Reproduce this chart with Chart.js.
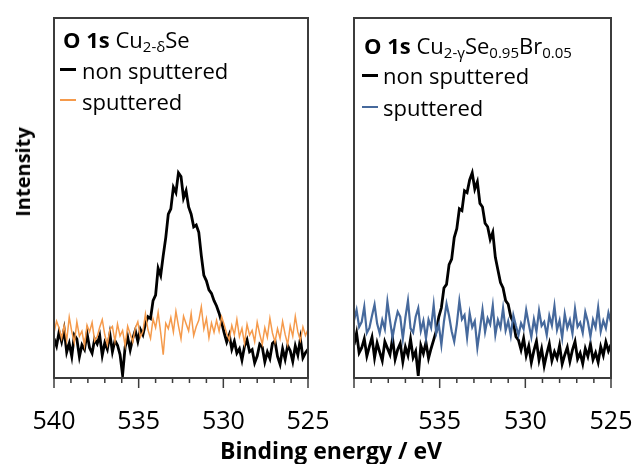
<!DOCTYPE html>
<html>
<head>
<meta charset="utf-8">
<script src="https://cdn.jsdelivr.net/npm/chart.js@4.4.0/dist/chart.umd.min.js"></script>
<style>
  body { margin: 0; background: #fff; overflow: hidden; }
  #wrap { position: relative; width: 635px; height: 464px; font-family: "Open Sans", sans-serif; color: #000; }
  canvas { position: absolute; top: 0; }
  .t { position: absolute; white-space: nowrap; font-size: 22px; line-height: 22px; }
  .t sub { font-size: 15px; vertical-align: -4px; line-height: 0; }
  .sw { position: absolute; width: 16px; }
</style>
</head>
<body>
<div id="wrap">
  <canvas id="chart" width="332" height="464" style="left:0"></canvas>
  <canvas id="chart2" width="305" height="464" style="left:330px"></canvas>

  <!-- legend left -->
  <div class="t" style="left:63px; top:28px"><b>O 1s</b> Cu<sub>2-δ</sub>Se</div>
  <div class="sw" style="left:60px; top:68px; height:3px; background:#000"></div>
  <div class="t" style="left:82px; top:59px">non sputtered</div>
  <div class="sw" style="left:60px; top:99px; height:2px; background:#f59a4b"></div>
  <div class="t" style="left:82px; top:90px">sputtered</div>

  <!-- legend right -->
  <div class="t" style="left:364px; top:34px"><b>O 1s</b> Cu<sub>2-γ</sub>Se<sub>0.95</sub>Br<sub>0.05</sub></div>
  <div class="sw" style="left:362px; top:74px; height:3px; background:#000"></div>
  <div class="t" style="left:383px; top:64px">non sputtered</div>
  <div class="sw" style="left:362px; top:106px; height:2px; background:#46699c"></div>
  <div class="t" style="left:383px; top:96px">sputtered</div>

  <!-- axis titles -->
  <div class="t" style="left:23px; top:172px; font-size:20px; font-weight:bold; transform: translate(-50%,-50%) rotate(-90deg)">Intensity</div>
  <div class="t" style="left:331px; top:439px; font-size:23px; font-weight:bold; transform: translateX(-50%)">Binding energy / eV</div>
</div>

<script>
// binding energy (eV), 0.15 eV steps
const energy = [540.00, 539.85, 539.70, 539.55, 539.40, 539.25, 539.10, 538.95, 538.80, 538.65,
  538.50, 538.35, 538.20, 538.05, 537.90, 537.75, 537.60, 537.45, 537.30, 537.15,
  537.00, 536.85, 536.70, 536.55, 536.40, 536.25, 536.10, 535.95, 535.80, 535.65,
  535.50, 535.35, 535.20, 535.05, 534.90, 534.75, 534.60, 534.45, 534.30, 534.15,
  534.00, 533.85, 533.70, 533.55, 533.40, 533.25, 533.10, 532.95, 532.80, 532.65,
  532.50, 532.35, 532.20, 532.05, 531.90, 531.75, 531.60, 531.45, 531.30, 531.15,
  531.00, 530.85, 530.70, 530.55, 530.40, 530.25, 530.10, 529.95, 529.80, 529.65,
  529.50, 529.35, 529.20, 529.05, 528.90, 528.75, 528.60, 528.45, 528.30, 528.15,
  528.00, 527.85, 527.70, 527.55, 527.40, 527.25, 527.10, 526.95, 526.80, 526.65,
  526.50, 526.35, 526.20, 526.05, 525.90, 525.75, 525.60, 525.45, 525.30, 525.15, 525.00];

// Cu2-dSe
const cuSeNon = [11.0, 8.9, 12.8, 10.1, 13.5, 7.2, 9.6, 6.0, 11.9, 10.8,
  5.9, 9.2, 7.9, 12.4, 8.4, 6.9, 10.8, 9.5, 11.8, 6.3,
  9.8, 8.0, 12.2, 7.3, 10.4, 9.1, 6.5, 0.8, 8.6, 11.4,
  7.8, 11.0, 13.2, 10.2, 13.5, 12.0, 15.0, 17.0, 16.5, 21.5,
  23.0, 30.5, 28.5, 34.0, 39.0, 45.5, 47.0, 53.0, 51.5, 57.0,
  56.0, 50.0, 52.0, 47.5, 45.5, 42.0, 42.5, 40.5, 34.0, 28.5,
  27.0, 24.5, 23.5, 21.5, 20.0, 18.0, 15.5, 12.5, 10.0, 12.0,
  8.0, 10.2, 6.9, 8.1, 5.0, 8.8, 10.6, 7.3, 7.9, 4.2,
  6.1, 9.4, 8.6, 4.5, 7.2, 5.4, 9.6, 10.3, 6.0, 3.8,
  8.1, 5.2, 9.0, 7.6, 4.6, 8.9, 6.4, 10.9, 5.6, 7.0, 8.0];
const cuSeSput = [12.5, 15.8, 13.9, 11.0, 14.6, 10.4, 16.9, 12.9, 9.8, 15.6,
  11.6, 13.0, 8.9, 14.7, 12.8, 15.4, 10.3, 11.5, 14.1, 16.2,
  12.0, 9.2, 13.5, 14.3, 10.2, 15.0, 11.7, 13.2, 9.0, 14.4,
  12.2, 10.0, 13.8, 15.6, 11.4, 12.9, 17.8, 13.4, 11.0, 16.4,
  14.0, 18.2, 12.6, 6.5, 15.2, 13.7, 16.8, 12.8, 18.5, 14.5,
  10.9, 17.2, 15.1, 13.1, 17.9, 11.8, 14.3, 16.0, 19.8, 13.6,
  16.5, 11.2, 15.3, 12.7, 16.0, 13.0, 17.0, 14.8, 12.3, 10.6,
  14.6, 12.0, 16.3, 11.5, 13.8, 9.6, 14.9, 11.9, 13.2, 10.1,
  15.5, 12.2, 9.4, 14.0, 11.3, 16.6, 12.5, 10.0, 13.7, 11.0,
  15.7, 12.1, 9.3, 14.5, 11.6, 17.1, 12.8, 10.4, 14.2, 11.8, 13.5];

// Cu2-ySe0.95Br0.05
const cuSeBrNon = [9.2, 12.5, 7.0, 8.4, 10.9, 6.1, 8.8, 11.3, 5.6, 9.7,
  7.2, 4.8, 10.1, 8.3, 6.5, 11.0, 5.2, 7.9, 9.6, 4.5,
  8.6, 6.3, 10.8, 5.7, 7.4, 0.6, 9.0, 6.8, 9.9, 5.5,
  8.2, 10.6, 13.0, 17.0, 19.5, 25.0, 26.0, 31.5, 33.0, 39.0,
  41.5, 47.0, 46.5, 52.0, 51.5, 55.0, 57.0, 52.5, 54.5, 48.5,
  47.5, 43.0, 42.0, 38.5, 40.5, 33.5, 30.0, 26.5, 25.0, 21.5,
  20.5, 17.0, 15.5, 11.5, 10.5, 7.8, 11.0, 6.2, 8.9, 4.3,
  7.6, 10.2, 5.0, 8.1, 3.4, 6.7, 9.5, 4.8, 7.3, 5.5,
  9.0, 3.9, 6.4, 8.5, 4.6, 7.8, 10.1, 5.3, 6.9, 4.0,
  8.2, 6.0, 9.4, 5.1, 7.0, 4.4, 8.7, 6.3, 10.0, 7.5, 9.3];
const cuSeBrSput = [16.0, 18.9, 14.2, 15.6, 19.8, 12.5, 13.9, 17.3, 20.4, 15.1,
  12.4, 16.1, 13.6, 21.2, 16.0, 11.2, 15.3, 18.4, 17.0, 10.9,
  16.8, 21.5, 13.8, 12.6, 17.0, 19.4, 13.1, 15.9, 11.0, 16.2,
  14.0, 20.3, 12.4, 14.8, 9.2, 15.7, 20.6, 17.2, 13.0, 10.1,
  14.9, 21.4, 16.3, 17.5, 11.2, 18.0, 14.1, 15.8, 8.4, 13.6,
  19.0, 12.8, 16.6, 14.9, 20.1, 12.0, 16.1, 14.0, 19.4, 13.2,
  15.8, 11.8, 17.4, 14.5, 11.9, 15.2, 13.6, 18.9, 15.0, 11.4,
  16.3, 12.9, 18.7, 14.5, 15.6, 11.9, 17.3, 14.6, 20.0, 13.4,
  16.0, 11.1, 17.8, 13.9, 16.1, 12.3, 19.2, 14.2, 15.4, 12.5,
  18.3, 15.6, 11.5, 16.2, 14.0, 19.6, 12.9, 15.9, 13.8, 18.1, 15.4];

function toPoints(values) {
  return energy.map((e, i) => ({ x: e, y: values[i] }));
}

// box round the plot + tick marks (long ones every 5 eV)
const framePlugin = {
  id: 'frame',
  afterDraw(chart) {
    const ctx = chart.ctx;
    const a = chart.chartArea;
    const x = chart.scales.x;
    ctx.save();
    ctx.strokeStyle = '#3c3c3c';
    ctx.lineWidth = 2;
    ctx.strokeRect(a.left, a.top, a.right - a.left, a.bottom - a.top);
    ctx.lineWidth = 1.5;
    x.ticks.forEach(t => {
      const px = x.getPixelForValue(t.value);
      const len = t.value % 5 === 0 ? 10 : 5;
      ctx.beginPath();
      ctx.moveTo(px, a.bottom);
      ctx.lineTo(px, a.bottom + len);
      ctx.stroke();
    });
    ctx.restore();
  }
};

function createChart(canvas, non, sput, color, sputWidth, showFirst, padding) {
  new Chart(canvas, {
    type: 'line',
    data: {
      datasets: [
        { label: 'non sputtered', data: toPoints(non), borderColor: '#000', borderWidth: 2.8, pointRadius: 0, order: 1 },
        { label: 'sputtered', data: toPoints(sput), borderColor: color, borderWidth: sputWidth, pointRadius: 0, order: 0 }
      ]
    },
    options: {
      responsive: false,
      animation: false,
      layout: { padding: padding },
      plugins: { legend: { display: false }, tooltip: { enabled: false } },
      scales: {
        x: {
          type: 'linear', reverse: true, min: 525, max: 540,
          border: { display: false },
          grid: { drawOnChartArea: false, drawTicks: true, tickLength: 29, tickColor: 'rgba(0,0,0,0)' },
          ticks: {
            stepSize: 1, autoSkip: false, maxRotation: 0, minRotation: 0, padding: 0,
            color: '#000', font: { family: 'Open Sans', size: 25 },
            callback: v => (v % 5 === 0 && (showFirst || v !== 540)) ? String(v) : ''
          }
        },
        y: { display: false, min: 0, max: 100 }
      }
    },
    plugins: [framePlugin]
  });
}

createChart(document.querySelector('#chart'), cuSeNon, cuSeSput, '#f59a4b', 1.5, true,
  { left: 54, right: 24, top: 18, bottom: 27 });
createChart(document.querySelector('#chart2'), cuSeBrNon, cuSeBrSput, '#46699c', 2.2, false,
  { left: 24, right: 24, top: 18, bottom: 27 });
</script>
</body>
</html>
